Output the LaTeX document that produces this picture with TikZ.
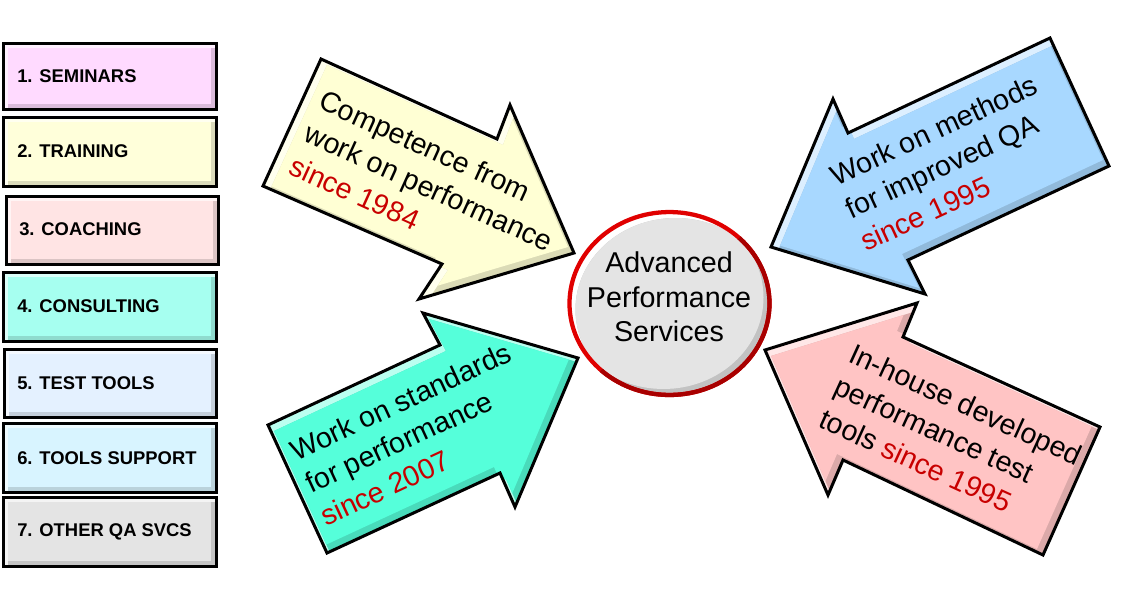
\documentclass[tikz,border=0pt]{standalone}
\usepackage{fontspec}
\setmainfont{Liberation Sans}
\definecolor{cSem}{HTML}{FFDAFF}
\definecolor{cTra}{HTML}{FFFFDA}
\definecolor{cCoa}{HTML}{FFE4E4}
\definecolor{cCon}{HTML}{A6FFF0}
\definecolor{cTes}{HTML}{E4F1FF}
\definecolor{cSup}{HTML}{D8F4FF}
\definecolor{cOth}{HTML}{E4E4E4}
\definecolor{aYel}{HTML}{FFFFD4}
\definecolor{aBlu}{HTML}{A8D8FF}
\definecolor{aTur}{HTML}{55FFDA}
\definecolor{aPnk}{HTML}{FFC4C4}
\definecolor{since}{HTML}{C80000}
\definecolor{ring}{HTML}{E00000}
\definecolor{ringdark}{HTML}{A80000}
\definecolor{disc}{HTML}{E4E4E4}
% #1 path macro, #2 base colour, #3 bevel depth
\newcommand\bevelshape[3]{%
  \begin{scope}
    \clip #1;
    \fill[#2!40!white] #1;
    \begin{scope}[shift={(#3,#3)}]
      \fill[#2!86!black] #1;
      \clip #1;
      \begin{scope}[shift={(-2*#3,-2*#3)}]
        \fill[#2] #1;
      \end{scope}
    \end{scope}
  \end{scope}
}
\def\bA{(3,43) rectangle (216,109)}
\def\bB{(3,117) rectangle (216,186)}
\def\bC{(6,196) rectangle (218,264)}
\def\bD{(3,272) rectangle (216,341)}
\def\bE{(4,349) rectangle (216,417)}
\def\bF{(3,423) rectangle (216,492)}
\def\bG{(3,497) rectangle (216,566)}
\def\pY{(321,59) -- (497,139) -- (510,105) -- (574,253) -- (419,299) -- (442,264) -- (263,186) -- cycle}
\def\pB{(1050,38) -- (848,133) -- (833,99) -- (771,247) -- (925,294) -- (908,260) -- (1109,166) -- cycle}
\def\pT{(268,425) -- (440,345) -- (423,313) -- (578,358) -- (515,507) -- (500,473) -- (327,553) -- cycle}
\def\pP{(765,350) -- (917,303) -- (903,337) -- (1100,427) -- (1043,555) -- (843,460) -- (828,495) -- cycle}
\def\pE{(669.5,303.5) ellipse [x radius=75pt, y radius=68.6pt]}
\begin{document}
\begin{tikzpicture}[x=0.75pt,y=-0.75pt,
  outline/.style={draw=black,line width=2.25pt,line join=miter},
  arrowtext/.style={font=\fontsize{21.5}{27}\selectfont, align=left, inner sep=0pt},
  boxtext/.style={font=\bfseries\fontsize{13.8}{16}\selectfont, anchor=west, inner sep=0pt},
  centertext/.style={font=\fontsize{21.5}{26}\selectfont, align=center, inner sep=0pt}]
\useasboundingbox (0,0) rectangle (1129,594);
\fill[white] (0,0) rectangle (1129,594);
% left boxes
\bevelshape{\bA}{cSem}{5}\draw[outline] \bA;
\bevelshape{\bB}{cTra}{5}\draw[outline] \bB;
\bevelshape{\bC}{cCoa}{5}\draw[outline] \bC;
\bevelshape{\bD}{cCon}{5}\draw[outline] \bD;
\bevelshape{\bE}{cTes}{5}\draw[outline] \bE;
\bevelshape{\bF}{cSup}{5}\draw[outline] \bF;
\bevelshape{\bG}{cOth}{5}\draw[outline] \bG;
\node[boxtext] (s1) at (17,76) {1. SEMINARS};
\node[boxtext] (s2) at (17,151.5) {2. TRAINING};
\node[boxtext] (s3) at (19,229.5) {3. COACHING};
\node[boxtext] (s4) at (17,306.5) {4. CONSULTING};
\node[boxtext] (s5) at (17,383) {5. TEST TOOLS};
\node[boxtext] (s6) at (17,458) {6. TOOLS SUPPORT};
\node[boxtext] (s7) at (17,532) {7. OTHER QA SVCS};
% arrows
\bevelshape{\pY}{aYel}{6}\draw[outline] \pY;
\bevelshape{\pB}{aBlu}{6}\draw[outline] \pB;
\bevelshape{\pT}{aTur}{6}\draw[outline] \pT;
\bevelshape{\pP}{aPnk}{6}\draw[outline] \pP;
\node[arrowtext, rotate=-24.4] (tY) at (429,187) {Competence from\\work on performance\\\textcolor{since}{since 1984}};
\node[arrowtext, rotate=24.8] (tB) at (949,163) {Work on methods\\for improved QA\\\textcolor{since}{since 1995}};
\node[arrowtext, rotate=24.9] (tT) at (416,434) {Work on standards\\for performance\\\textcolor{since}{since 2007}};
\node[arrowtext, rotate=-24.6] (tP) at (951,437) {In-house developed\\performance test\\tools \textcolor{since}{since 1995}};
% centre disc
\begin{scope}
  \clip \pE;
  \fill[white] \pE;
  \begin{scope}[shift={(6,6)}]
    \fill[disc!85!black] \pE;
    \clip \pE;
    \begin{scope}[shift={(-12,-12)}]
      \fill[disc] \pE;
    \end{scope}
  \end{scope}
\end{scope}
\draw[ring, line width=3.2pt] \pE;
\begin{scope}
  \clip (669.5,303.5) -- (790,190) -- (800,420) -- (550,420) -- cycle;
  \draw[ringdark, line width=3.2pt] \pE;
\end{scope}
\node[centertext] (c) at (669,297) {Advanced\\Performance\\Services};
\end{tikzpicture}
\end{document}
